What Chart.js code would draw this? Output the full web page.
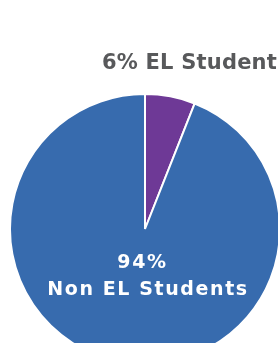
<!DOCTYPE html>
<html>
<head>
<meta charset="utf-8">
<script src="https://cdn.jsdelivr.net/npm/chart.js@4"></script>
<style>
html,body{margin:0;padding:0;background:#fff;overflow:hidden;width:278px;height:343px;}
#wrap{position:absolute;left:0;top:0;width:290px;height:458px;}
</style>
</head>
<body>
<div id="wrap"><canvas id="c"></canvas></div>
<script>
const categories = ['EL Students', 'Non EL Students'];
const values = [6, 94];
const colors = ['#6E3996', '#376BAE'];

const labelPlugin = {
  id: 'labels',
  afterDraw(chart) {
    const ctx = chart.ctx;
    const meta = chart.getDatasetMeta(0);
    const total = values.reduce((a, b) => a + b, 0);
    const pct = values.map(v => Math.round(v / total * 100) + '%');
    ctx.save();
    // outside label for small slice
    ctx.fillStyle = '#58595B';
    ctx.font = 'bold 21px "DejaVu Sans"';
    ctx.letterSpacing = '0.2px';
    ctx.textAlign = 'left';
    ctx.textBaseline = 'alphabetic';
    ctx.fillText(pct[0] + ' ' + categories[0], 102, 69);
    // inside label for large slice
    const arc = meta.data[1];
    ctx.fillStyle = '#ffffff';
    ctx.font = 'bold 19px "DejaVu Sans"';
    ctx.letterSpacing = '1.6px';
    ctx.textAlign = 'center';
    ctx.fillText(pct[1], arc.x - 2.5, 268);
    ctx.fillText(categories[1], arc.x + 3, 295);
    ctx.restore();
  }
};

new Chart(document.getElementById('c'), {
  type: 'pie',
  data: {
    labels: categories,
    datasets: [{
      data: values,
      backgroundColor: colors,
      borderColor: '#ffffff',
      borderWidth: 2
    }]
  },
  options: {
    responsive: true,
    maintainAspectRatio: false,
    animation: false,
    layout: { padding: { left: 9, right: 9, top: 93, bottom: 93 } },
    plugins: { legend: { display: false }, tooltip: { enabled: false } }
  },
  plugins: [labelPlugin]
});
</script>
</body>
</html>
